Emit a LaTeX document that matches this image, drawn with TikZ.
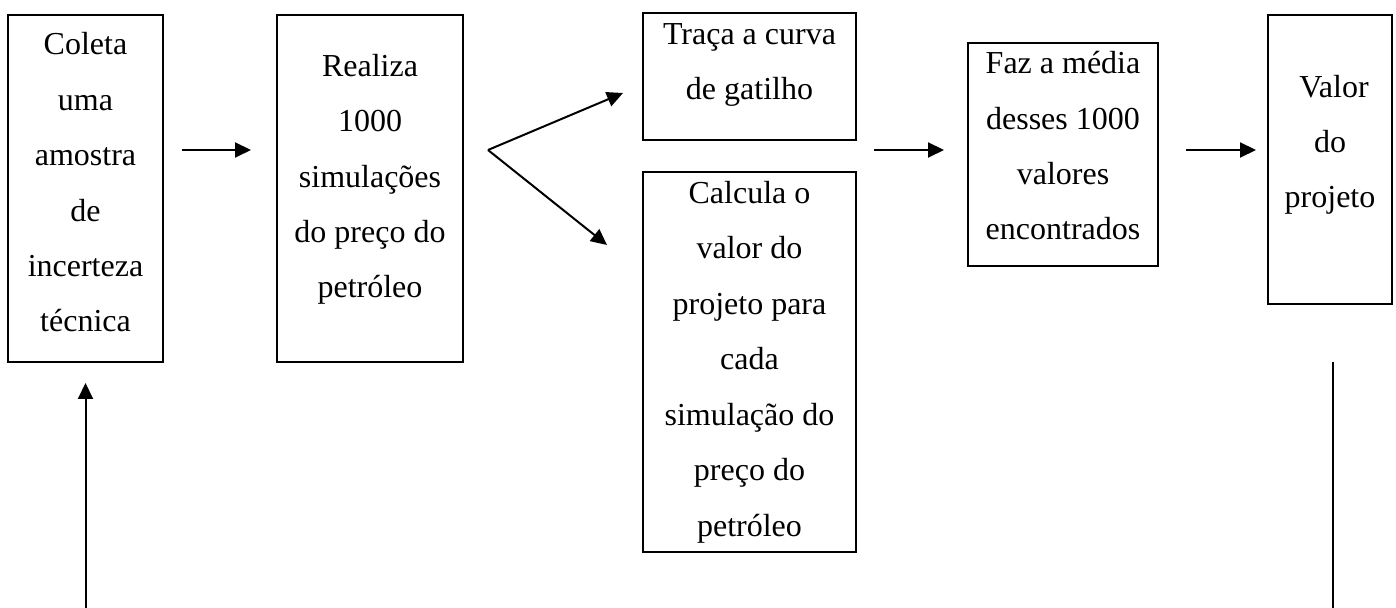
\documentclass[tikz,border=0pt]{standalone}
\usepackage{fontspec}
\setmainfont{Liberation Serif}
\usetikzlibrary{arrows.meta}

\begin{document}
\begin{tikzpicture}[
x=0.5pt, y=-0.5pt,
every node/.style={font=\fontsize{16pt}{27.7pt}\selectfont},
stepbox/.style={draw, line width=1pt, inner sep=0pt},
steptext/.style={anchor=base, align=center, inner sep=0pt},
arrow/.style={-{Triangle[length=8pt, width=7.5pt]}, line width=1pt}
]
\useasboundingbox (0,0) rectangle (1396,608);

% Box 1 - amostra (text placed by its last line)
\node[stepbox, minimum width=77.5pt, minimum height=173.5pt] (coleta) at (85.5,188.5) {};
\node[steptext] (coletaT) at (85.5,332) {Coleta\\uma\\amostra\\de\\incerteza\\técnica};

% Box 2 - simulacoes
\node[stepbox, minimum width=93pt, minimum height=173.5pt] (realiza) at (370,188.5) {};
\node[steptext] (realizaT) at (370,298) {Realiza\\1000\\simulações\\do preço do\\petróleo};

% Box 3 - curva de gatilho
\node[stepbox, minimum width=106.5pt, minimum height=63.5pt] (traca) at (749.5,76.5) {};
\node[steptext] (tracaT) at (749.5,100) {Traça a curva\\de gatilho};

% Box 4 - valor por simulacao
\node[stepbox, minimum width=106.5pt, minimum height=190pt] (calcula) at (749.5,362) {};
\node[steptext] (calculaT) at (749.5,536) {Calcula o\\valor do\\projeto para\\cada\\simulação do\\preço do\\petróleo};

% Box 5 - media
\node[stepbox, minimum width=95pt, minimum height=111.5pt] (faz) at (1063,154.5) {};
\node[steptext] (fazT) at (1063,240) {Faz a média\\desses 1000\\valores\\encontrados};

% Box 6 - resultado
\node[stepbox, minimum width=62pt, minimum height=144.5pt] (valor) at (1330,159.5) {};
\node[steptext] (valorT) at (1330,208) {~Valor\\do\\projeto};

% fork and loose ends
\coordinate (fork) at (488,150);
\coordinate (forkup) at (623,93);
\coordinate (forkdown) at (607,245);
\coordinate (loopin) at (85.5,608);
\coordinate (loopout) at (1333,608);

% Arrows
\draw[arrow, shorten <=9pt, shorten >=12.5pt] (coleta.east |- fork) -- (realiza.west |- fork);
\draw[arrow] (fork) -- (forkup);
\draw[arrow] (fork) -- (forkdown);
\draw[arrow, shorten <=8.5pt, shorten >=11.5pt] (traca.east |- fork) -- (faz.west |- fork);
\draw[arrow, shorten <=13.5pt, shorten >=5.5pt] (faz.east |- fork) -- (valor.west |- fork);
\draw[arrow, shorten >=10pt] (loopin) -- (coleta.south);
\draw[line width=1pt, shorten <=28.5pt] (valor.south -| loopout) -- (loopout);

\end{tikzpicture}
\end{document}
